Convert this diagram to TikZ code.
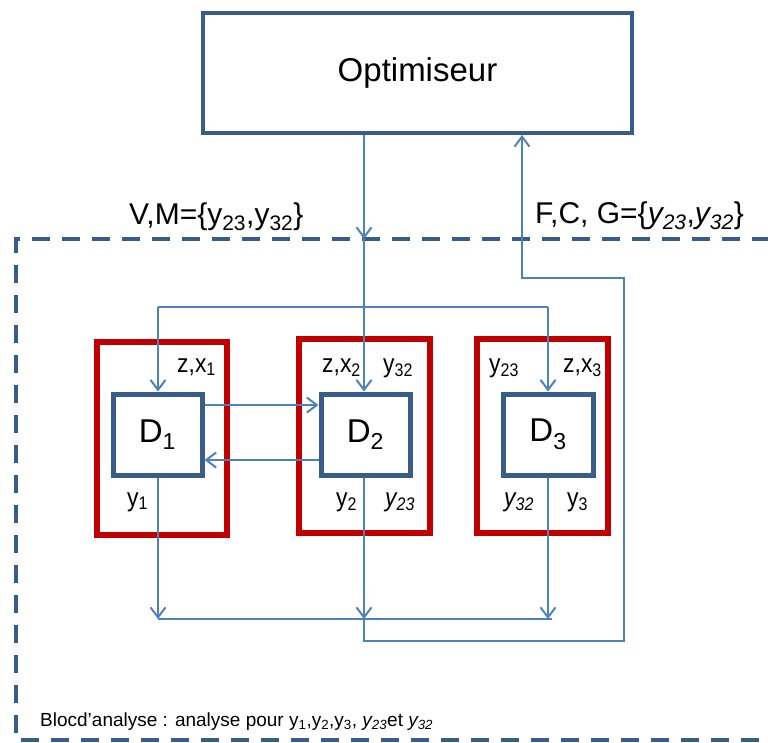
\documentclass[tikz,border=0pt]{standalone}
\usepackage{fontspec}
\setmainfont{Liberation Sans}
\newfontfamily\narrowsans{Liberation Sans}[FakeStretch=0.88]
\usetikzlibrary{arrows.meta}
\definecolor{frameblue}{RGB}{56,93,138}
\definecolor{discred}{RGB}{192,0,0}
\definecolor{linkblue}{RGB}{79,129,189}
\begin{document}
\begin{tikzpicture}[x=1pt,y=-1pt,
  conn/.style={draw=linkblue,line width=2pt},
  arr/.style={conn,-{Straight Barb[length=10pt,width=15pt]}},
  redbox/.style={draw=discred,line width=6pt,inner sep=0pt,rectangle},
  bluebox/.style={draw=frameblue,line width=5pt,fill=white,rectangle,inner sep=0pt,
    minimum width=89pt,minimum height=81pt,font=\fontsize{33}{36}\selectfont},
  lbl/.style={inner sep=0pt,anchor=base west,font=\narrowsans\fontsize{26}{30}\selectfont},
  biglbl/.style={inner sep=0pt,anchor=base west,font=\fontsize{30}{34}\selectfont},
  smalllbl/.style={inner sep=0pt,anchor=base west,font=\fontsize{19}{22}\selectfont}]
\useasboundingbox (0,0) rectangle (768,742);

% analysis block (dashed frame, open on the right)
\draw[frameblue,line width=4pt,dash pattern=on 18pt off 12pt] (800,239) -- (16,239) -- (16,740) -- (800,740);

% optimiser
\node[draw=frameblue,line width=4pt,rectangle,minimum width=429pt,minimum height=120pt,
  font=\fontsize{33}{36}\selectfont] (opt) at (417.5,73) {Optimiseur};

% disciplines (red frames)
\node[redbox,minimum width=130pt,minimum height=193pt] (r1) at (162,438.5) {};
\node[redbox,minimum width=131pt,minimum height=194pt] (r2) at (364.5,436) {};
\node[redbox,minimum width=131pt,minimum height=194pt] (r3) at (542.5,436) {};

% routing points
\coordinate (zin) at (364,239);
\coordinate (zl) at (158,307);
\coordinate (zr) at (548,307);
\coordinate (c12) at (0,405);
\coordinate (c21) at (0,460);
\coordinate (yl) at (158,619);
\coordinate (ym) at (364,619);
\coordinate (yr) at (548,619);
\coordinate (yend) at (552,619);
\coordinate (ret1) at (364,641);
\coordinate (ret2) at (624,641);
\coordinate (ret3) at (624,278);
\coordinate (ret4) at (522,278);

% discipline solvers
\node[bluebox] (d1) at (157.5,434.5) {D\textsubscript{1}};
\node[bluebox] (d2) at (365.5,434.5) {D\textsubscript{2}};
\node[bluebox,minimum width=90pt] (d3) at (548,434.5) {D\textsubscript{3}};

% design variables down to the disciplines
\draw[arr] (opt.south -| zin) -- (zin);
\draw[arr] (zin) -- (d2.north -| zin);
\draw[conn] (zl) -- (zr);
\draw[arr] (zl) -- (d1.north -| zl);
\draw[arr] (zr) -- (d3.north -| zr);

% coupling between D1 and D2
\draw[arr] (d1.east |- c12) -- (d2.west |- c12);
\draw[arr] (d2.west |- c21) -- (d1.east |- c21);

% outputs collected and returned to the optimiser
\draw[arr] (d1.south -| yl) -- (yl);
\draw[arr] (d2.south -| ym) -- (ym);
\draw[arr] (d3.south -| yr) -- (yr);
\draw[conn] (yl) -- (yend);
\draw[arr] (ym) -- (ret1) -- (ret2) -- (ret3) -- (ret4) -- (opt.south -| ret4);

% labels inside the discipline frames
\node[lbl] (l1a) at (177,372) {z,x\textsubscript{1}};
\node[lbl] (l1b) at (127,506) {y\textsubscript{1}};
\node[lbl] (l2a) at (322,372) {z,x\textsubscript{2}};
\node[lbl] (l2b) at (383,372) {y\textsubscript{32}};
\node[lbl] (l2c) at (336,506) {y\textsubscript{2}};
\node[lbl] (l2d) at (385,506) {\textit{y\textsubscript{23}}};
\node[lbl] (l3a) at (489,372) {y\textsubscript{23}};
\node[lbl] (l3b) at (563,372) {z,x\textsubscript{3}};
\node[lbl] (l3c) at (504,506) {\textit{y\textsubscript{32}}};
\node[lbl] (l3d) at (567,506) {y\textsubscript{3}};

% exchanged quantities
\node[biglbl] (vm) at (129,224) {V,M=\{y\textsubscript{23},y\textsubscript{32}\}};
\node[biglbl] (fcg) at (535,223) {F,C, G=\{\textit{y\textsubscript{23}},\textit{y\textsubscript{32}}\}};

% block caption
\node[smalllbl] (blk) at (40,726) {Blocd’analyse : analyse pour y\textsubscript{1},y\textsubscript{2},y\textsubscript{3}, \textit{y\textsubscript{23}}et \textit{y\textsubscript{32}}};
\end{tikzpicture}
\end{document}
